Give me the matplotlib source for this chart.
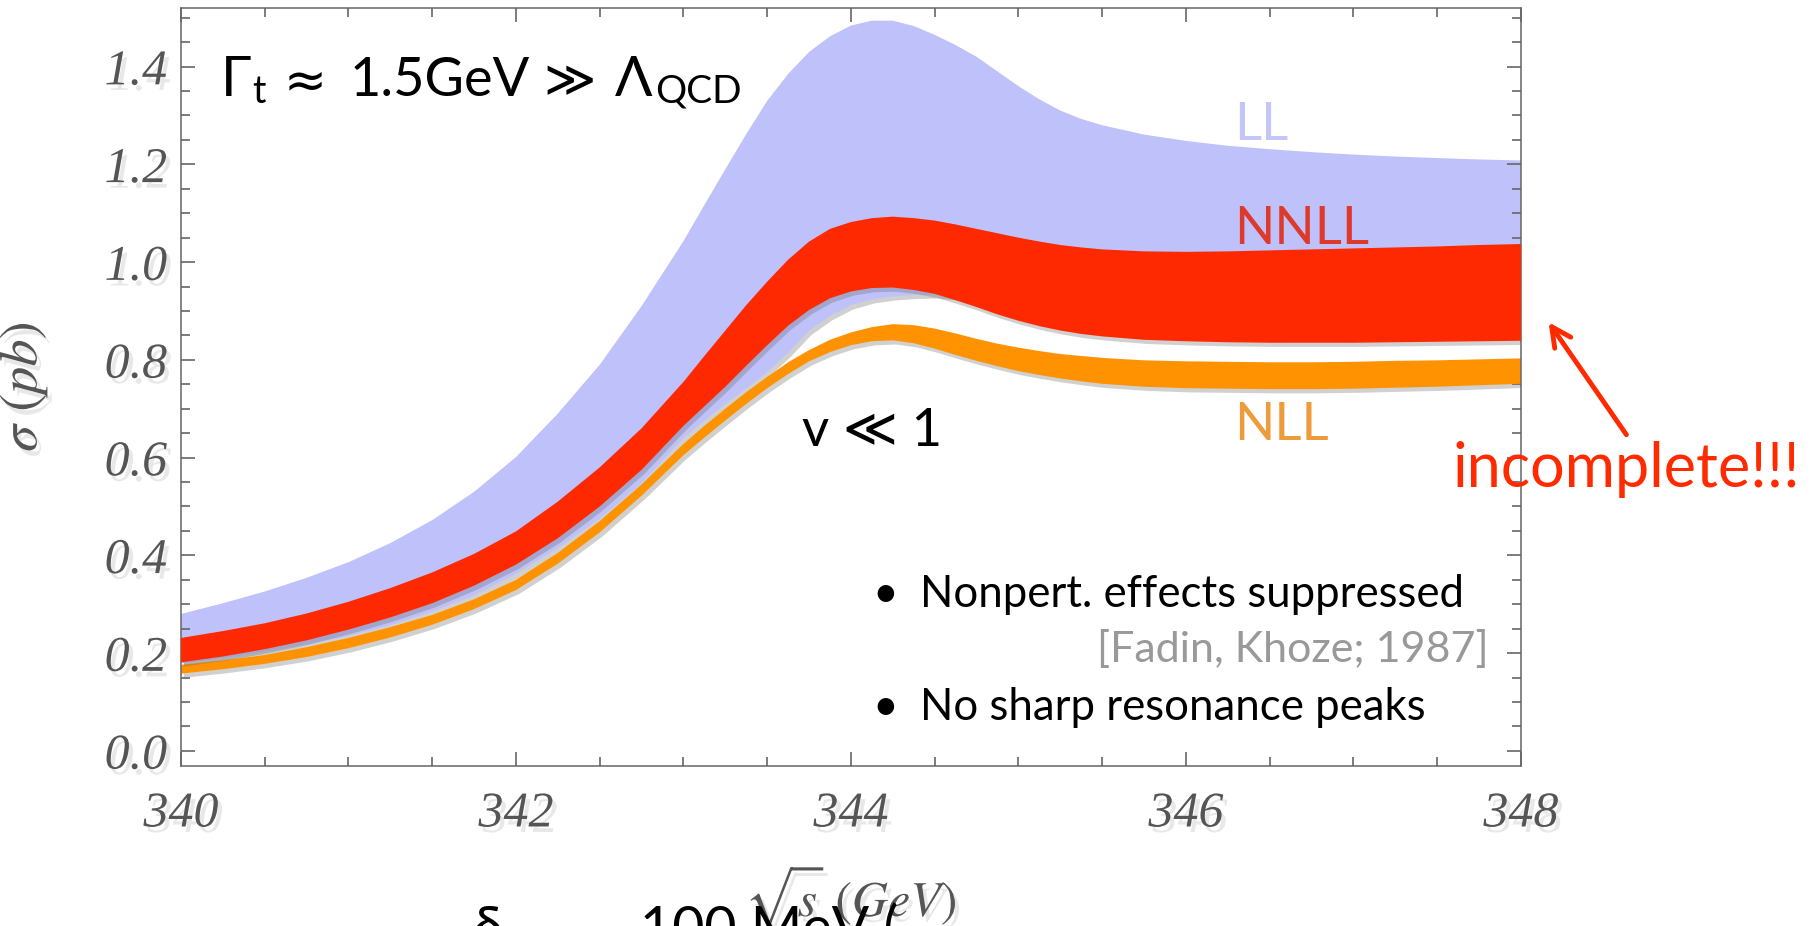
import matplotlib
matplotlib.use('Agg')
import matplotlib.pyplot as plt
import matplotlib.patheffects as pe
from matplotlib.ticker import MultipleLocator

# sqrt(s) in GeV, band edges in pb
energy = [340.000, 340.250, 340.500, 340.750, 341.000, 341.250, 341.500, 341.750,
          342.000, 342.250, 342.500, 342.750, 343.000, 343.125, 343.250, 343.375,
          343.500, 343.625, 343.750, 343.875, 344.000, 344.125, 344.250, 344.375,
          344.500, 344.625, 344.750, 344.875, 345.000, 345.125, 345.250, 345.375,
          345.500, 345.750, 346.000, 346.250, 346.500, 346.750, 347.000, 347.250,
          347.500, 347.750, 348.000]

ll_hi = [0.280, 0.302, 0.326, 0.354, 0.386, 0.425, 0.472, 0.530,
         0.601, 0.690, 0.790, 0.910, 1.043, 1.117, 1.190, 1.262,
         1.330, 1.385, 1.430, 1.462, 1.484, 1.494, 1.494, 1.483,
         1.465, 1.444, 1.420, 1.390, 1.360, 1.333, 1.310, 1.293,
         1.280, 1.261, 1.248, 1.238, 1.231, 1.225, 1.220, 1.216,
         1.213, 1.210, 1.208]
ll_lo = [0.179, 0.190, 0.203, 0.218, 0.235, 0.257, 0.285, 0.318,
         0.362, 0.415, 0.475, 0.548, 0.640, 0.676, 0.710, 0.742,
         0.775, 0.815, 0.860, 0.890, 0.912, 0.924, 0.930, 0.933,
         0.934, 0.930, 0.925, 0.915, 0.905, 0.897, 0.890, 0.884,
         0.878, 0.871, 0.868, 0.866, 0.865, 0.865, 0.865, 0.866,
         0.867, 0.868, 0.869]

nnll_hi = [0.231, 0.245, 0.261, 0.281, 0.305, 0.333, 0.365, 0.403,
           0.449, 0.510, 0.580, 0.660, 0.755, 0.808, 0.860, 0.912,
           0.960, 1.005, 1.042, 1.068, 1.082, 1.090, 1.093, 1.090,
           1.085, 1.077, 1.068, 1.059, 1.050, 1.042, 1.035, 1.030,
           1.026, 1.022, 1.021, 1.022, 1.024, 1.026, 1.028, 1.030,
           1.032, 1.035, 1.037]
nnll_lo = [0.181, 0.193, 0.208, 0.226, 0.248, 0.273, 0.302, 0.338,
           0.381, 0.435, 0.500, 0.575, 0.665, 0.705, 0.745, 0.788,
           0.830, 0.870, 0.902, 0.926, 0.940, 0.947, 0.948, 0.943,
           0.935, 0.922, 0.908, 0.893, 0.880, 0.869, 0.860, 0.853,
           0.848, 0.841, 0.838, 0.836, 0.835, 0.835, 0.835, 0.836,
           0.837, 0.838, 0.839]

nll_hi = [0.176, 0.185, 0.196, 0.212, 0.231, 0.253, 0.278, 0.310,
          0.350, 0.405, 0.470, 0.545, 0.628, 0.665, 0.700, 0.734,
          0.765, 0.795, 0.820, 0.841, 0.856, 0.867, 0.873, 0.871,
          0.864, 0.854, 0.843, 0.833, 0.825, 0.818, 0.812, 0.808,
          0.804, 0.799, 0.797, 0.796, 0.795, 0.795, 0.796, 0.798,
          0.799, 0.801, 0.803]
nll_lo = [0.158, 0.167, 0.178, 0.192, 0.210, 0.232, 0.258, 0.290,
          0.329, 0.383, 0.447, 0.522, 0.605, 0.641, 0.676, 0.710,
          0.742, 0.771, 0.797, 0.816, 0.830, 0.838, 0.840, 0.834,
          0.823, 0.810, 0.798, 0.787, 0.777, 0.769, 0.762, 0.756,
          0.751, 0.745, 0.742, 0.741, 0.740, 0.740, 0.741, 0.743,
          0.745, 0.748, 0.751]

xticks = [340, 342, 344, 346, 348]
xtick_labels = ['340', '342', '344', '346', '348']
yticks = [0.0, 0.2, 0.4, 0.6, 0.8, 1.0, 1.2, 1.4]
ytick_labels = ['0.0', '0.2', '0.4', '0.6', '0.8', '1.0', '1.2', '1.4']

LL_COL = '#BEC1FA'
NLL_COL = '#FF9200'
NNLL_COL = '#FF2900'
GREY = '#555555'

plt.rcParams['mathtext.fontset'] = 'stix'
SANS = ['Lato', 'DejaVu Sans']
DJ = ['DejaVu Sans']

fig = plt.figure(figsize=(18.1, 9.26), dpi=100)
ax = fig.add_axes([0.1, 0.1728, 0.7403, 0.8186])

band_fx = [pe.SimplePatchShadow(offset=(2, -3), shadow_rgbFace='0.4', alpha=0.3), pe.Normal()]
ax.fill_between(energy, ll_lo, ll_hi, color=LL_COL, lw=0, path_effects=band_fx, zorder=1)
ax.fill_between(energy, nll_lo, nll_hi, color=NLL_COL, lw=0, path_effects=band_fx, zorder=2)
ax.fill_between(energy, nnll_lo, nnll_hi, color=NNLL_COL, lw=0, path_effects=band_fx, zorder=3)

ax.set_xlim(340, 348)
ax.set_ylim(-0.031, 1.520)

txt_fx = [pe.SimplePatchShadow(offset=(3, -4), shadow_rgbFace='0.5', alpha=0.18), pe.Normal()]
tick_font = dict(fontfamily='Liberation Serif', fontstyle='italic', fontsize=36,
                 color=GREY, path_effects=txt_fx)
ax.set_xticks(xticks, labels=xtick_labels, **tick_font)
ax.set_yticks(yticks, labels=ytick_labels, **tick_font)
ax.xaxis.set_minor_locator(MultipleLocator(0.5))
ax.yaxis.set_minor_locator(MultipleLocator(0.05))
ax.tick_params(which='both', direction='in', top=True, right=True, color='#666666', width=1.2)
ax.tick_params(which='major', length=10)
ax.tick_params(which='minor', length=6.5)
ax.tick_params(axis='x', pad=18)
ax.tick_params(axis='y', pad=10)
for sp in ax.spines.values():
    sp.set_color('#666666')
    sp.set_linewidth(1.1)

ax.set_xlabel(r'$\sqrt{s}\ (GeV)$', fontsize=36, color=GREY, path_effects=txt_fx)
ax.xaxis.set_label_coords(0.5, -0.127)
ax.set_ylabel(r'$\sigma\ (pb)$', fontsize=39, color=GREY, path_effects=txt_fx)
ax.yaxis.set_label_coords(-0.098, 0.5)

# Gamma_t line, each piece placed where it sits in the picture
ax.text(340.239, 1.339, '\u0393', fontsize=40, family=SANS)
ax.text(340.424, 1.326, 't', fontsize=27, family=SANS)
ax.text(340.610, 1.339, '\u2248', fontsize=37, family=DJ)
ax.text(341.009, 1.339, '1.5GeV', fontsize=39, family=SANS)
ax.text(342.161, 1.339, '\u226B', fontsize=36, family=DJ)
ax.text(342.591, 1.339, '\u039B', fontsize=40, family=SANS)
ax.text(342.830, 1.326, 'QCD', fontsize=28, family=SANS)

ax.text(343.71, 0.623, 'v \u226A 1', fontsize=38, family=SANS)

ax.text(346.29, 1.249, 'LL', fontsize=38, family=SANS, color='#C3C6F6', zorder=5)
ax.text(346.29, 1.037, 'NNLL', fontsize=38, family=SANS, color='#DD3A2C', zorder=5)
ax.text(346.29, 0.636, 'NLL', fontsize=38, family=SANS, color='#EE9B3C', zorder=5)

ax.text(344.13, 0.2946, '\u2022', fontsize=32, family=SANS)
ax.text(344.41, 0.2946, 'Nonpert. effects suppressed', fontsize=31.5, family=SANS)
ax.text(347.81, 0.182, '[Fadin, Khoze; 1987]', fontsize=31, family=SANS, color='#999999',
        ha='right')
ax.text(344.13, 0.0634, '\u2022', fontsize=32, family=SANS)
ax.text(344.41, 0.0634, 'No sharp resonance peaks', fontsize=31.5, family=SANS)

# slide text running off the bottom edge
fig.text(473 / 1810, -0.0216, '\u03B4', fontsize=40, family=SANS)
fig.text(640 / 1810, -0.0216, '100 MeV (', fontsize=40, family=SANS)

fig.text(1452 / 1810, 1 - 487 / 926, 'incomplete!!!', fontsize=44, family=SANS,
         color='#FF2A00')
fig.add_artist(matplotlib.patches.FancyArrowPatch(
    (1628 / 1810, 1 - 437 / 926), (1547 / 1810, 1 - 320 / 926),
    transform=fig.transFigure, arrowstyle='->,head_length=0.7,head_width=0.35',
    mutation_scale=20, color='#FF2A00', lw=3.5))

fig.savefig('out.png', dpi=100)
